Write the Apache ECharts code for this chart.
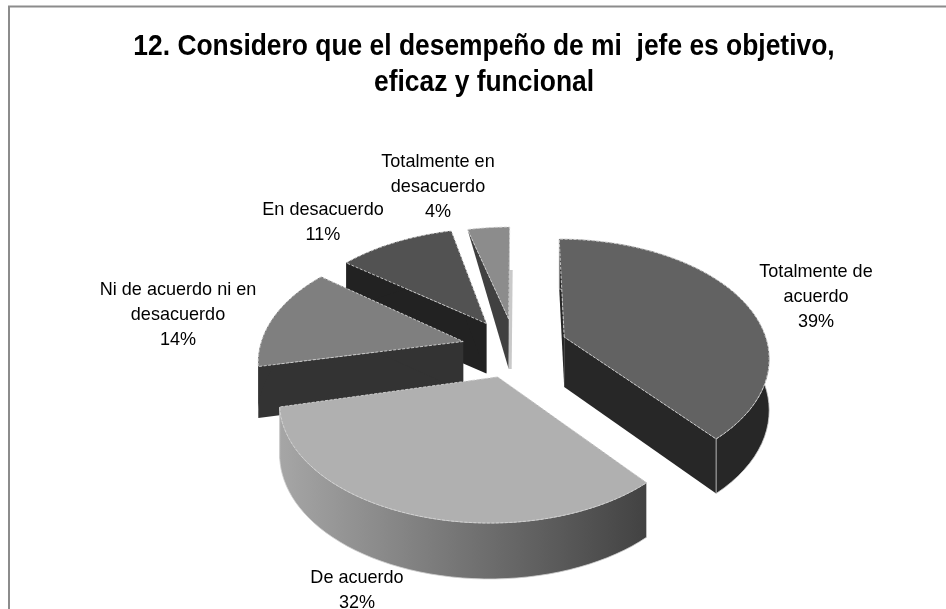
<!DOCTYPE html>
<html><head><meta charset="utf-8">
<style>html,body{margin:0;padding:0;background:#fff}#c{width:946px;height:609px}</style>
<script src="https://cdn.jsdelivr.net/npm/echarts@6/dist/echarts.min.js"></script>
</head><body><div id="c"></div>
<script>
const categories = ["Totalmente de\nacuerdo", "De acuerdo", "Ni de acuerdo ni en\ndesacuerdo", "En desacuerdo", "Totalmente en\ndesacuerdo"];
const values = [39, 32, 14, 11, 4];
const titleText = "12. Considero que el desempeño de mi  jefe es objetivo,\neficaz y funcional";

// styling / projection parameters
const topColors = ["#626262", "#b0b0b0", "#7f7f7f", "#525252", "#8c8c8c"];
const wallColors = ["#272727", "#8a8a8a", "#333333", "#222222", "#404040"];
const paintOrder = [3, 4, 2, 1, 0];          // back-to-front rank per slice
const rimDepthFactor = [1, 1, 1, 1, 0];
const rimNudge = [[-5, -4], [-8, 0], [5, -5], [7, -1], [1, 2]];
const labelCentres = [[816, 297], [357, 590], [178, 315], [323, 222], [438, 187]];
const CX = 515, CY = 347, RX = 205, RY = 114.4, PERSP = 0.217, EXPLODE = 0.26, DEPTH = 50;

const total = values.reduce((a, b) => a + b, 0);
const rad = v => v / total * Math.PI * 2;
const starts = values.map((_, i) => values.slice(0, i).reduce((a, b) => a + rad(b), 0));

function vec(theta, r) {
  const s = Math.sin(theta), Y = -Math.cos(theta), w = 1 - PERSP * r * Y;
  return [RX * r * s / w, RY * r * Y / w];
}
function depthAt(theta) {
  const Y = -Math.cos(theta);
  return DEPTH + (Y > 0 ? 6 * Y : 0);
}

function renderItem(params, api) {
  const i = params.dataIndex;
  const a0 = starts[i], a1 = a0 + rad(api.value(0)), mid = (a0 + a1) / 2;
  const off = vec(mid, EXPLODE);
  const apex = [CX + off[0], CY + off[1]];
  const steps = 48, rim = [], rimB = [];
  const k = rimDepthFactor[i], nudge = rimNudge[i];
  for (let n = 0; n <= steps; n++) {
    const t = a0 + (a1 - a0) * n / steps, v = vec(t, 1);
    const p = [apex[0] + v[0] + nudge[0], apex[1] + v[1] + nudge[1]];
    rim.push(p);
    rimB.push([p[0], p[1] + depthAt(t) * k]);
  }
  const apexB = [apex[0], apex[1] + DEPTH];
  const base = paintOrder[i] * 10;
  const wall = wallColors[i];
  const edge = { stroke: "#d2d2d2", lineWidth: 0.9, lineDash: [3, 1.5] };
  const children = [];
  const poly = (pts, fill, z, st) => ({
    type: "polygon", z2: base + z, shape: { points: pts },
    style: Object.assign({ fill: fill }, st || {})
  });
  // radial walls
  children.push(poly([apex, rim[0], rimB[0], apexB], wall, 0));
  children.push(poly([apex, rim[steps], rimB[steps], apexB], wall, 1));
  // outer wall
  if (k > 0) {
    const fill = i === 1
      ? new echarts.graphic.LinearGradient(0, 0, 1, 0, [
          { offset: 0, color: "#a6a6a6" }, { offset: 0.5, color: "#747474" }, { offset: 1, color: "#424242" }])
      : wall;
    const st = i <= 1 ? { stroke: "#cfcfcf", lineWidth: 0.8 } : null;
    children.push(poly(rim.concat(rimB.slice().reverse()), fill, 2, st));
  }
  // light sliver beside the narrow slice
  if (k === 0) {
    const e = rim[steps];
    children.push(poly([[e[0], e[1] + 43], apexB, [apexB[0] + 3, apexB[1]], [e[0] + 3, e[1] + 43]], "#c9c9c9", 0));
  }
  // top face
  children.push(poly([apex].concat(rim), topColors[i], 3, edge));
  // label
  const c = labelCentres[i];
  children.push({
    type: "text", z2: 100, x: c[0], y: c[1], scaleX: 0.95,
    style: {
      x: 0, y: 0, align: "center", verticalAlign: "middle",
      text: categories[i] + "\n" + api.value(0) + "%",
      fill: "#000", font: "19px 'Liberation Sans'", lineHeight: 25
    }
  });
  return { type: "group", children };
}

const chart = echarts.init(document.getElementById("c"), null, { renderer: "canvas" });
chart.setOption({
  backgroundColor: "#fff",
  animation: false,
  graphic: [
    { type: "polyline", z: -1, shape: { points: [[9, 609], [9, 6.5], [946, 6.5]] },
      style: { fill: null, stroke: "#8c8c8c", lineWidth: 2 } },
    { type: "text", x: 484, y: 65, scaleX: 0.88,
      style: { x: 0, y: 0, align: "center", verticalAlign: "middle", text: titleText,
        fill: "#000", font: "bold 30px 'Liberation Sans'", lineHeight: 36 } }
  ],
  series: [{
    type: "custom", coordinateSystem: "none", renderItem,
    data: values.map(v => [v])
  }]
});
</script></body></html>
